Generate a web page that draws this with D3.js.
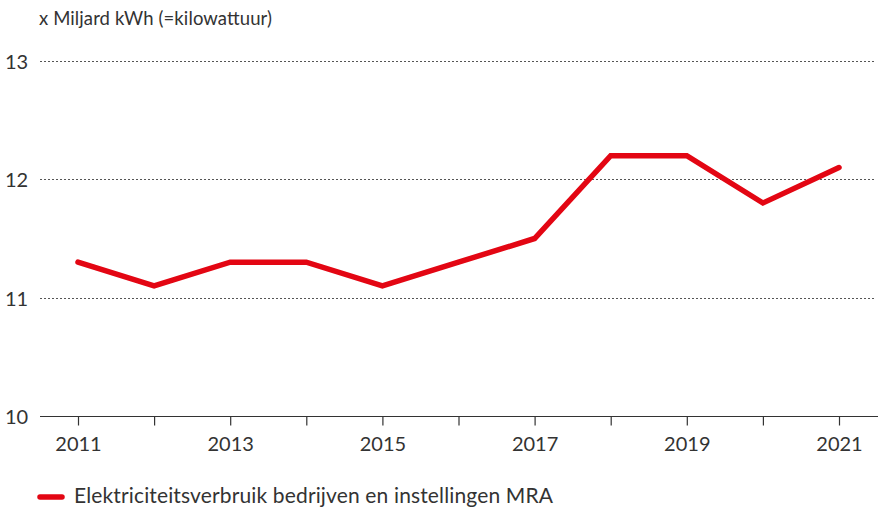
<!DOCTYPE html>
<html>
<head>
<meta charset="utf-8">
<script src="https://cdn.jsdelivr.net/npm/d3@7"></script>
<style>
  html, body { margin: 0; padding: 0; background: #fff; }
  svg { display: block; font-family: Lato, "Open Sans", sans-serif; font-weight: 400; }
</style>
</head>
<body>
<svg id="chart" width="878" height="509"></svg>
<script>
// Electricity use of businesses and institutions, MRA (billion kWh)
const years = [2011, 2012, 2013, 2014, 2015, 2016, 2017, 2018, 2019, 2020, 2021];
const usage = [11.3, 11.1, 11.3, 11.3, 11.1, 11.3, 11.5, 12.2, 12.2, 11.8, 12.1];
const yTicks = [10, 11, 12, 13];
const xLabelYears = [2011, 2013, 2015, 2017, 2019, 2021];
const seriesName = "Elektriciteitsverbruik bedrijven en instellingen MRA";
const unitLabel = "x Miljard kWh (=kilowattuur)";

const svg = d3.select("#chart");
const textColor = "#333333";
const red = "#e30613";

const x = d3.scaleLinear().domain([2011, 2021]).range([78, 839]);
const y = d3.scaleLinear().domain([10, 13]).range([416, 61]);
const left = 40, right = 876;

// unit label
svg.append("text")
  .attr("x", 39).attr("y", 25)
  .attr("font-size", 18.5).attr("fill", textColor)
  .attr("textLength", 233).attr("lengthAdjust", "spacing")
  .text(unitLabel);

// gridlines (dotted) for values above the baseline
svg.append("g").selectAll("line")
  .data(yTicks.filter(d => d > 10))
  .join("line")
  .attr("x1", left).attr("x2", right)
  .attr("y1", d => Math.round(y(d)) + 0.5).attr("y2", d => Math.round(y(d)) + 0.5)
  .attr("stroke", "#555").attr("stroke-width", 1)
  .attr("stroke-dasharray", "2,2");

// y tick labels
svg.append("g").selectAll("text")
  .data(yTicks)
  .join("text")
  .attr("x", 5).attr("y", d => y(d) + 8)
  .attr("font-size", 20).attr("fill", textColor)
  .text(d => d);

// baseline axis with yearly ticks
const axis = d3.axisBottom(x)
  .tickValues(years)
  .tickSize(9)
  .tickFormat(d => xLabelYears.includes(d) ? d : "");
const ax = svg.append("g")
  .attr("transform", `translate(0,${Math.round(y(10)) + 0.5})`)
  .call(axis);
ax.select(".domain").remove();
ax.selectAll(".tick line").attr("stroke", "#333").attr("stroke-width", 1.2);
ax.selectAll(".tick text")
  .attr("font-size", 20).attr("fill", textColor)
  .attr("font-family", "Lato, sans-serif")
  .attr("font-weight", 400)
  .attr("y", 34).attr("dy", null);
svg.append("line")
  .attr("x1", left).attr("x2", 878)
  .attr("y1", Math.round(y(10)) + 0.5).attr("y2", Math.round(y(10)) + 0.5)
  .attr("stroke", "#333").attr("stroke-width", 1.2);

// data line
const line = d3.line()
  .x((d, i) => x(years[i]))
  .y(d => y(d));
svg.append("path")
  .datum(usage)
  .attr("d", line)
  .attr("fill", "none")
  .attr("stroke", red)
  .attr("stroke-width", 5.5)
  .attr("stroke-linejoin", "miter")
  .attr("stroke-linecap", "round");

// legend
const lg = svg.append("g").attr("transform", "translate(38,497)");
lg.append("line")
  .attr("x1", 2).attr("x2", 24).attr("y1", 0).attr("y2", 0)
  .attr("stroke", red).attr("stroke-width", 5.5).attr("stroke-linecap", "round");
lg.append("text")
  .attr("x", 36).attr("y", 6)
  .attr("font-size", 21).attr("fill", textColor)
  .attr("textLength", 479).attr("lengthAdjust", "spacing")
  .text(seriesName);
</script>
</body>
</html>
